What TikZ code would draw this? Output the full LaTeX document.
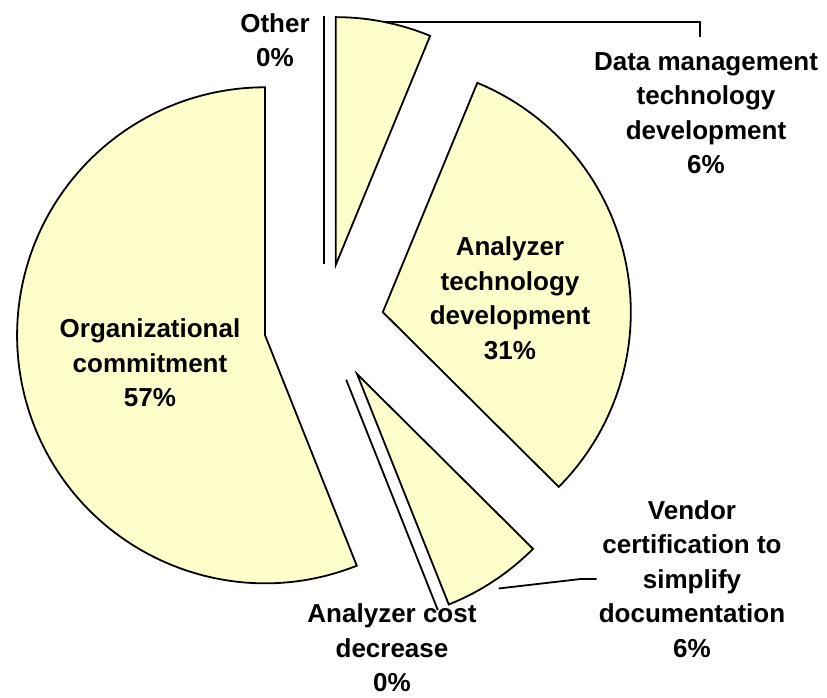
\documentclass[tikz,border=0pt]{standalone}
\usepackage{fontspec}
\setmainfont{Liberation Sans}
\usetikzlibrary{calc}
\definecolor{pieyellow}{HTML}{FFFFCC}
\def\Radius{248}
\def\Explode{60}
% one exploded slice: name, start angle, end angle
\newcommand{\PieSlice}[3]{%
    \pgfmathsetmacro\sliceMid{(#2+#3)/2}
    \coordinate (#1) at ($(centre)+(\sliceMid:\Explode)$);
    \draw[slice] (#1) -- ++(#2:\Radius) arc[start angle=#2, end angle=#3, radius=\Radius] -- cycle;
}
% a slice of 0%: only one edge is left
\newcommand{\PieGap}[2]{%
    \coordinate (#1) at ($(centre)+(#2:\Explode)$);
    \draw[slice,fill=none] (#1) -- ++(#2:\Radius);
}
\begin{document}
\begin{tikzpicture}[x=1pt,y=1pt,
    slice/.style={draw,line width=1.8pt,fill=pieyellow},
    leader/.style={draw,line width=1.8pt},
    pielabel/.style={font=\fontsize{26}{34.5}\selectfont\bfseries,align=center,inner sep=2pt}]
    \useasboundingbox (0,0) rectangle (827,697);
    \coordinate (centre) at (324,373);
    \PieSlice{data}{90}{67.6}
    \PieSlice{tech}{67.6}{-44.8}
    \PieSlice{vendor}{-44.8}{-68.3}
    \PieGap{cost}{-68.3}
    \PieSlice{org}{-68.3}{-270}
    \PieGap{other}{90}
    \node[pielabel] (otherLabel) at (275,657) {Other\\0\%};
    \node[pielabel] (dataLabel) at (706,584) {Data management\\technology\\development\\6\%};
    \node[pielabel] (techLabel) at (510,399) {Analyzer\\technology\\development\\31\%};
    \node[pielabel] (vendorLabel) at (692,118) {Vendor\\certification to\\simplify\\documentation\\6\%};
    \node[pielabel] (costLabel) at (392,49) {Analyzer cost\\decrease\\0\%};
    \node[pielabel] (orgLabel) at (150,334) {Organizational\\commitment\\57\%};
    \coordinate (dataTip) at ($(data)+(78.8:\Radius)$);
    \coordinate (vendorTip) at ($(vendor)+(-56.55:257)$);
    \draw[leader] (dataTip) -| ([xshift=-6pt,yshift=13pt]dataLabel.north);
    \draw[leader] (vendorTip) -- ([xshift=-16pt]vendorLabel.west) -- (vendorLabel.west);
\end{tikzpicture}
\end{document}
